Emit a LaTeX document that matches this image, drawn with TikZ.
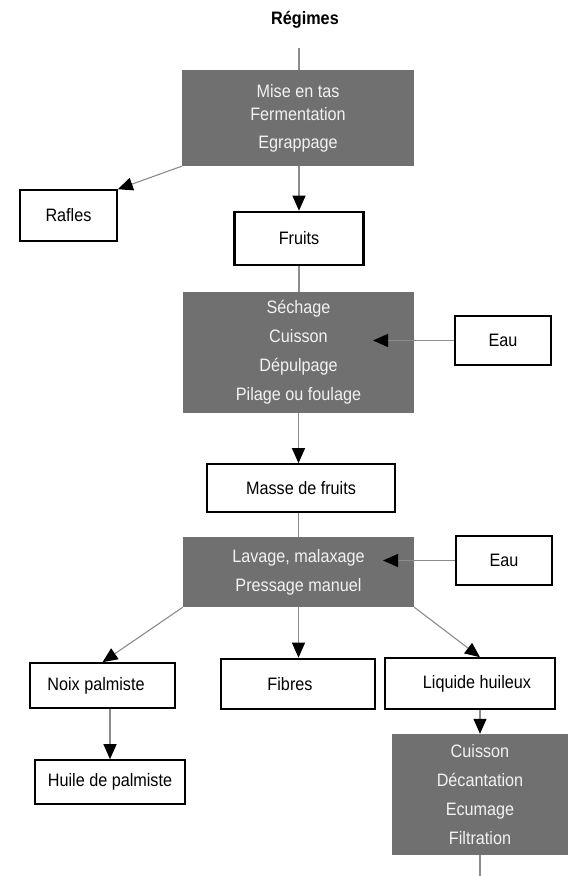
\documentclass[tikz,border=0pt]{standalone}
\usepackage{fontspec}
\setmainfont[FakeStretch=0.9]{Liberation Sans}
\usetikzlibrary{arrows.meta}
\definecolor{procgray}{RGB}{112,112,112}
\definecolor{proctext}{RGB}{242,242,242}
\definecolor{linegray}{RGB}{140,140,140}

\begin{document}
\begin{tikzpicture}[x=1pt,y=-1pt,font=\fontsize{18}{20}\selectfont,
  etape/.style={fill=procgray,text=proctext,align=center,inner sep=0pt,font=\fontsize{18}{29}\selectfont},
  produit/.style={draw,line width=1.6pt,fill=white,inner sep=0pt},
  produitfort/.style={produit,line width=2.6pt},
  fleche/.style={draw=linegray,line width=1.1pt,-{Triangle[length=15pt,width=13pt,color=black]}},
  trait/.style={draw=linegray,line width=1.1pt}]
  \useasboundingbox[fill=white] (0,0) rectangle (580,876);

  \node[font=\fontsize{18}{20}\selectfont\bfseries] (regimes) at (305,20) {Régimes};
  \coordinate (haut) at (299,48);
  \node[etape,minimum width=232pt,minimum height=96pt] (mise) at (298,118)
    {Mise en tas\\[-6pt]Fermentation\\[-1pt]Egrappage};
  \node[produit,minimum width=97pt,minimum height=51pt] (rafles) at (68.5,215.5) {Rafles};
  \node[produitfort,minimum width=129pt,minimum height=53pt] (fruits) at (299,238.5) {Fruits};

  \node[etape,minimum width=231pt,minimum height=121pt] (sechage) at (298.5,352.5)
    {Séchage\\Cuisson\\Dépulpage\\Pilage ou foulage};
  \node[produit,minimum width=96pt,minimum height=49pt] (eaua) at (503,340.5) {Eau};
  \coordinate (entreea) at (373,340.5);
  \node[produit,minimum width=188pt,minimum height=48pt] (masse) at (301,488) {Masse de fruits};

  \node[etape,minimum width=231pt,minimum height=70pt] (lavage) at (298.5,572)
    {Lavage, malaxage\\Pressage manuel};
  \node[produit,minimum width=96pt,minimum height=49pt] (eaub) at (504,560.5) {Eau};
  \coordinate (entreeb) at (383,560.5);

  \node[produit,minimum width=145pt,minimum height=45pt] (noix) at (102.5,685.5) {\hspace*{-13pt}Noix palmiste};
  \node[produitfort,minimum width=154pt,minimum height=50pt] (fibres) at (298,684) {\hspace*{-16pt}Fibres};
  \node[produit,minimum width=170pt,minimum height=51pt] (liquide) at (470,683.5) {\hspace*{14pt}Liquide huileux};
  \node[produit,minimum width=150pt,minimum height=44pt] (huile) at (110,782) {Huile de palmiste};
  \node[etape,minimum width=176pt,minimum height=121pt] (cuisson) at (480,794.5)
    {Cuisson\\Décantation\\Ecumage\\Filtration};
  \coordinate (bas) at (480,876);

  % liaisons
  \draw[trait] (haut) -- (haut |- mise.north);
  \draw[fleche] (mise.south west) -- (rafles.north east);
  \draw[fleche] (fruits.north |- mise.south) -- (fruits.north);
  \draw[trait] (fruits.south) -- (fruits.south |- sechage.north);
  \draw[fleche] (eaua.west) -- (entreea);
  \draw[fleche] (sechage.south) -- (sechage.south |- masse.north);
  \draw[trait] (sechage.south |- masse.south) -- (lavage.north);
  \draw[fleche] (eaub.west) -- (entreeb);
  \draw[fleche] (lavage.south west) -- (noix.north);
  \draw[fleche] (lavage.south) -- (lavage.south |- fibres.north);
  \draw[fleche] (lavage.south east) -- (cuisson.north |- liquide.north);
  \draw[fleche] (huile.north |- noix.south) -- (huile.north);
  \draw[fleche] (cuisson.north |- liquide.south) -- (cuisson.north);
  \draw[trait] (cuisson.south) -- (bas);
\end{tikzpicture}
\end{document}
